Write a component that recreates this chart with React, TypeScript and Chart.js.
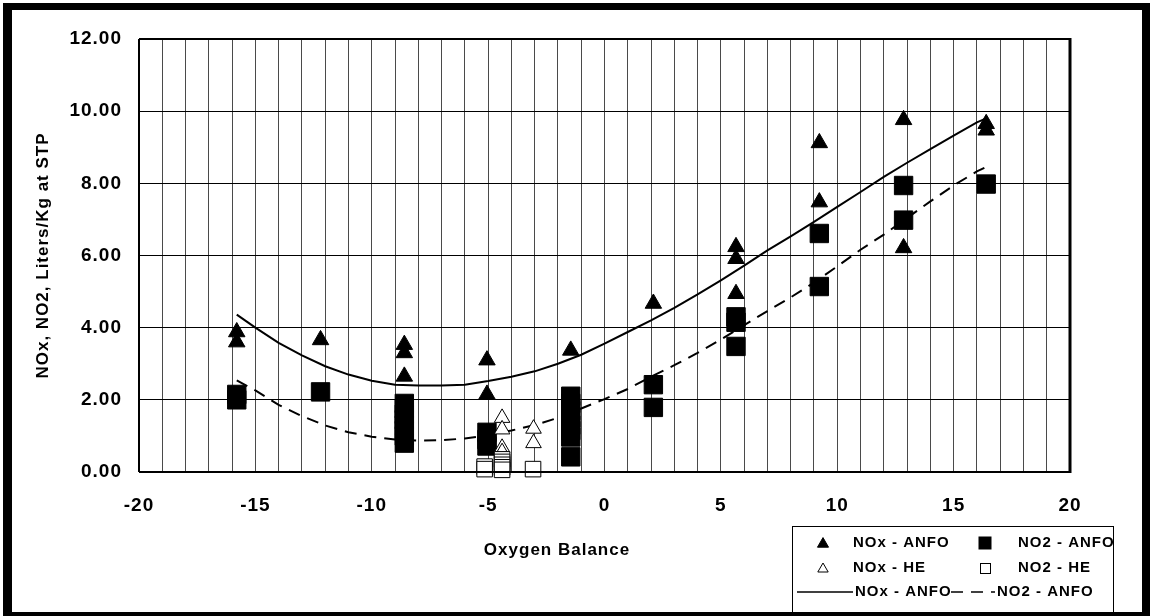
import React, { useEffect, useRef } from 'react';
import { Chart, registerables } from 'chart.js';

Chart.register(...registerables);

const xTickLabels = ['-20', '-15', '-10', '-5', '0', '5', '10', '15', '20'];
const yTickLabels = ['0.00', '2.00', '4.00', '6.00', '8.00', '10.00', '12.00'];

const xAxisTitle = 'Oxygen Balance';
const yAxisTitle = 'NOx, NO2, Liters/Kg at STP';

// NOx - ANFO (filled triangles)
const noxAnfoX = [-15.8, -15.8, -12.2, -8.6, -8.6, -8.6, -5.05, -5.05, -1.45, -1.45, 2.1, 5.65, 5.65, 5.65, 9.23, 9.23, 12.85, 12.85, 16.4, 16.4];
const noxAnfoY = [3.88, 3.6, 3.66, 3.53, 3.3, 2.65, 3.1, 2.15, 3.37, 0.9, 4.67, 6.24, 5.91, 4.94, 9.12, 7.48, 9.76, 6.21, 9.65, 9.47];

// NO2 - ANFO (filled squares)
const no2AnfoX = [-15.8, -15.8, -12.2, -8.6, -8.6, -8.6, -8.6, -8.6, -8.6, -8.6, -8.6, -5.05, -5.05, -5.05, -1.45, -1.45, -1.45, -1.45, -1.45, -1.45, -1.45, -1.45, 2.1, 2.1, 5.65, 5.65, 5.65, 9.23, 9.23, 12.85, 12.85, 16.4];
const no2AnfoY = [2.15, 2.0, 2.22, 1.9, 1.75, 1.6, 1.45, 1.3, 1.15, 1.0, 0.8, 1.1, 0.9, 0.72, 2.1, 1.9, 1.7, 1.5, 1.3, 1.15, 0.97, 0.42, 2.42, 1.79, 4.3, 4.15, 3.48, 6.61, 5.14, 7.94, 6.98, 7.98];

// NOx - HE (open triangles)
const noxHeX = [-4.4, -4.4, -4.4, -4.4, -3.05, -3.05];
const noxHeY = [1.5, 1.18, 0.67, 0.55, 1.2, 0.8];

// NO2 - HE (open squares)
const no2HeX = [-5.15, -5.15, -4.4, -4.4, -4.4, -4.4, -4.4, -3.07];
const no2HeY = [0.15, 0.08, 0.35, 0.28, 0.2, 0.13, 0.06, 0.08];

// Fitted curves
const noxFitX = [-15.8, -15, -14, -13, -12, -11, -10, -9, -8, -7, -6, -5, -4, -3, -2, -1, 0, 1, 2, 3, 4, 5, 6, 7, 8, 9, 10, 11, 12, 13, 14, 15, 16, 16.4];
const noxFitY = [4.36, 4.0, 3.58, 3.23, 2.93, 2.7, 2.53, 2.42, 2.4, 2.4, 2.42, 2.52, 2.64, 2.79, 3.0, 3.25, 3.56, 3.88, 4.2, 4.55, 4.92, 5.31, 5.72, 6.14, 6.53, 6.93, 7.35, 7.76, 8.18, 8.57, 8.95, 9.32, 9.69, 9.8];
const no2FitX = [-15.8, -15, -14, -13, -12, -11, -10, -9, -8, -7, -6, -5, -4, -3, -2, -1, 0, 1, 2, 3, 4, 5, 6, 7, 8, 9, 10, 11, 12, 13, 14, 15, 16, 16.4];
const no2FitY = [2.54, 2.26, 1.86, 1.55, 1.29, 1.1, 0.98, 0.9, 0.87, 0.88, 0.93, 1.02, 1.15, 1.3, 1.5, 1.76, 2.02, 2.3, 2.64, 2.96, 3.3, 3.67, 4.07, 4.46, 4.84, 5.25, 5.7, 6.16, 6.58, 7.04, 7.5, 7.94, 8.33, 8.45];

const legendLabels = ['NOx - ANFO', 'NO2 - ANFO', 'NOx - HE', 'NO2 - HE', 'NOx - ANFO', 'NO2 - ANFO'];

const FONT = '"Liberation Sans", Arial, Helvetica, sans-serif';

const pts = (xs: number[], ys: number[]) => xs.map((x, i) => ({ x, y: ys[i] }));

function tri(ctx: CanvasRenderingContext2D, x: number, y: number, r: number, fill: string) {
  ctx.beginPath();
  ctx.moveTo(x, y - r);
  ctx.lineTo(x + r * 0.866, y + r / 2);
  ctx.lineTo(x - r * 0.866, y + r / 2);
  ctx.closePath();
  ctx.fillStyle = fill;
  ctx.fill();
  ctx.strokeStyle = '#000';
  ctx.lineWidth = 1;
  ctx.stroke();
}

const decorPlugin = {
  id: 'decor',
  beforeDraw(chart: any) {
    const ctx = chart.ctx as CanvasRenderingContext2D;
    ctx.save();
    ctx.fillStyle = '#fff';
    ctx.fillRect(0, 0, chart.width, chart.height);
    ctx.restore();
    (ctx as any).letterSpacing = '1px';
  },
  afterDraw(chart: any) {
    const ctx = chart.ctx as CanvasRenderingContext2D;
    const a = chart.chartArea;
    ctx.save();
    // plot border
    ctx.strokeStyle = '#000';
    ctx.lineWidth = 2;
    ctx.beginPath();
    ctx.moveTo(a.left, a.top);
    ctx.lineTo(a.right, a.top);
    ctx.moveTo(a.left, a.bottom);
    ctx.lineTo(a.right, a.bottom);
    ctx.moveTo(a.left, a.top);
    ctx.lineTo(a.left, a.bottom);
    ctx.stroke();
    ctx.lineWidth = 3;
    ctx.beginPath();
    ctx.moveTo(a.right, a.top - 1);
    ctx.lineTo(a.right, a.bottom + 1);
    ctx.stroke();

    // x axis title
    (ctx as any).letterSpacing = '1px';
    ctx.fillStyle = '#000';
    ctx.font = `bold 17px ${FONT}`;
    ctx.textAlign = 'center';
    ctx.textBaseline = 'middle';
    ctx.fillText(xAxisTitle, 557, 550);

    // legend
    ctx.fillStyle = '#fff';
    ctx.fillRect(793, 527, 320, 86);
    ctx.strokeStyle = '#000';
    ctx.lineWidth = 1;
    ctx.strokeRect(792.5, 526.5, 321, 87);
    const r1 = 543, r2 = 568, r3 = 592;
    tri(ctx, 823, r1 + 1, 6.4, '#000');
    ctx.fillStyle = '#000';
    ctx.fillRect(978.5, r1 - 6.5, 13, 13);
    tri(ctx, 823, r2 + 1, 6, '#fff');
    ctx.fillStyle = '#fff';
    ctx.fillRect(980.5, r2 - 4.5, 10, 10);
    ctx.strokeRect(980.5, r2 - 4.5, 10, 10);
    ctx.lineWidth = 1.5;
    ctx.beginPath();
    ctx.moveTo(797, r3);
    ctx.lineTo(853, r3);
    ctx.stroke();
    ctx.setLineDash([12, 8]);
    ctx.beginPath();
    ctx.moveTo(951, r3);
    ctx.lineTo(995, r3);
    ctx.stroke();
    ctx.setLineDash([]);
    ctx.fillStyle = '#000';
    ctx.font = `bold 15px ${FONT}`;
    ctx.textAlign = 'left';
    ctx.textBaseline = 'middle';
    ctx.fillText(legendLabels[0], 853, r1);
    ctx.fillText(legendLabels[1], 1018, r1);
    ctx.fillText(legendLabels[2], 853, r2);
    ctx.fillText(legendLabels[3], 1018, r2);
    ctx.fillText(legendLabels[4], 855, r3);
    ctx.fillText(legendLabels[5], 997, r3);

    // outer frame
    ctx.fillStyle = '#000';
    ctx.fillRect(3, 3, 1147, 7);
    ctx.fillRect(3, 3, 9, 613);
    ctx.fillRect(1142, 3, 8, 613);
    ctx.fillRect(3, 612, 1147, 4);
    ctx.restore();
  },
};

export default function App() {
  const ref = useRef<HTMLCanvasElement | null>(null);

  useEffect(() => {
    if (!ref.current) return;
    const chart = new Chart(ref.current, {
      type: 'scatter',
      data: {
        datasets: [
          {
            label: 'NO2 - HE',
            data: pts(no2HeX, no2HeY),
            pointStyle: 'rect',
            pointRadius: 11,
            backgroundColor: '#fff',
            borderColor: '#000',
            borderWidth: 1,
            order: 1,
            clip: false,
          } as any,
          {
            label: 'NOx - HE',
            data: pts(noxHeX, noxHeY),
            pointStyle: 'triangle',
            pointRadius: 9,
            backgroundColor: '#fff',
            borderColor: '#000',
            borderWidth: 1,
            order: 2,
            clip: false,
          },
          {
            label: 'NOx - ANFO',
            data: pts(noxAnfoX, noxAnfoY),
            pointStyle: 'triangle',
            pointRadius: 9.5,
            backgroundColor: '#000',
            borderColor: '#000',
            borderWidth: 1,
            order: 3,
            clip: false,
          },
          {
            label: 'NO2 - ANFO',
            data: pts(no2AnfoX, no2AnfoY),
            pointStyle: 'rect',
            pointRadius: 13,
            backgroundColor: '#000',
            borderColor: '#000',
            borderWidth: 1,
            order: 4,
            clip: false,
          },
          {
            label: 'NOx - ANFO fit',
            data: pts(noxFitX, noxFitY),
            showLine: true,
            pointRadius: 0,
            borderColor: '#000',
            borderWidth: 2,
            tension: 0,
            order: 10,
          },
          {
            label: 'NO2 - ANFO fit',
            data: pts(no2FitX, no2FitY),
            showLine: true,
            pointRadius: 0,
            borderColor: '#000',
            borderWidth: 2,
            borderDash: [12, 8],
            tension: 0,
            order: 11,
          },
        ],
      },
      options: {
        responsive: false,
        maintainAspectRatio: false,
        devicePixelRatio: 1,
        animation: false,
        events: [],
        layout: { padding: { left: 0, top: 39, right: 81, bottom: 0 } },
        plugins: {
          legend: { display: false },
          tooltip: { enabled: false },
        },
        scales: {
          x: {
            type: 'linear',
            min: -20,
            max: 20,
            afterFit: (s: any) => {
              s.height = 144;
            },
            ticks: {
              stepSize: 1,
              autoSkip: false,
              maxRotation: 0,
              minRotation: 0,
              padding: 22,
              color: '#000',
              font: { family: FONT, size: 19, weight: 'bold' },
              callback: (v: any) => {
                const n = Number(v);
                return Math.abs(n % 5) < 1e-9 ? xTickLabels[Math.round((n + 20) / 5)] : '';
              },
            },
            grid: { color: '#4a4a4a', lineWidth: 1, drawTicks: false },
            border: { display: false },
          },
          y: {
            type: 'linear',
            min: 0,
            max: 12,
            afterFit: (s: any) => {
              s.width = 139;
            },
            title: {
              display: true,
              text: yAxisTitle,
              color: '#000',
              font: { family: FONT, size: 17, weight: 'bold' },
              padding: { top: 33, bottom: 0 },
            },
            ticks: {
              stepSize: 2,
              padding: 17,
              color: '#000',
              font: { family: FONT, size: 19, weight: 'bold' },
              callback: (v: any) => yTickLabels[Math.round(Number(v) / 2)],
            },
            grid: { color: '#000', lineWidth: 1, drawTicks: false },
            border: { display: false },
          },
        },
      },
      plugins: [decorPlugin],
    } as any);
    return () => chart.destroy();
  }, []);

  return (
    <div style={{ position: 'absolute', left: 0, top: 0, width: 1151, height: 616, background: '#fff' }}>
      <canvas ref={ref} width={1151} height={616} style={{ width: 1151, height: 616, display: 'block' }} />
    </div>
  );
}
